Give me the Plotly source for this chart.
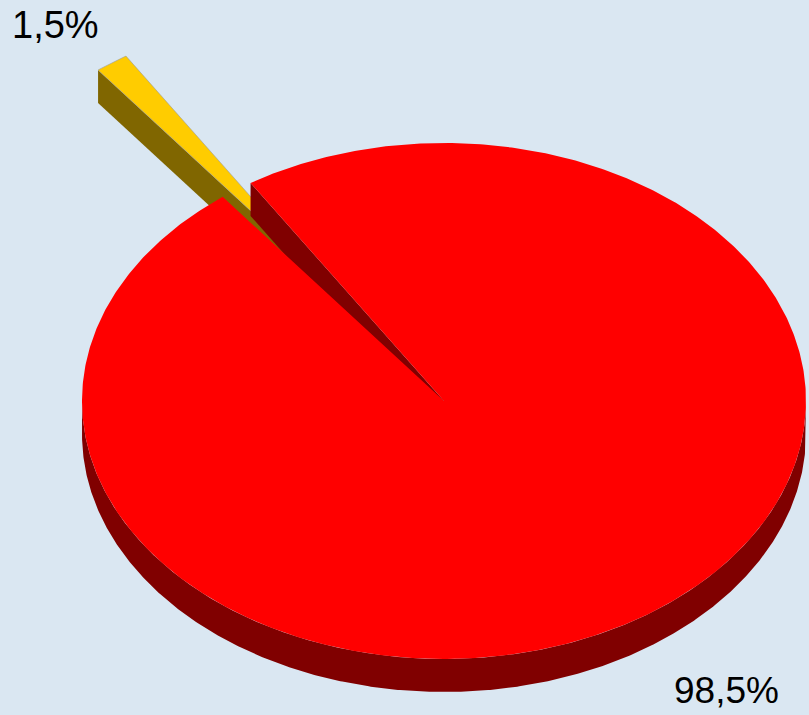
import numpy as np
import plotly.graph_objects as go

# Pie data
labels = ["1,5%", "98,5%"]
values = [1.5, 98.5]

# Styling per slice
top_colors = ["#FFCC00", "#FF0000"]
side_colors = ["#806600", "#800000"]
explode = [0.6, 0.0]

# Canvas / projection parameters (pixel units)
W, H = 809, 715
CX, CY = 444, 401        # pie centre
RX, RY = 362, 258        # ellipse radii of the tilted top face
DEPTH = 33               # thickness of the pie
START = 127.7            # angle (deg) where the first slice begins; slices run clockwise
BG = "#dae7f2"


def rim(cx, cy, ang_deg):
    a = np.radians(ang_deg)
    return cx + RX * np.cos(a), cy - RY * np.sin(a)


def arc(cx, cy, lo, hi):
    n = max(8, int(abs(hi - lo) * 2))
    ang = np.linspace(lo, hi, n)
    x, y = rim(cx, cy, ang)
    return list(x), list(y)


def add_poly(fig, xs, ys, color, line_color=None):
    fig.add_trace(go.Scatter(
        x=xs + [xs[0]], y=ys + [ys[0]], mode="lines", fill="toself",
        fillcolor=color,
        line=dict(color=line_color or color, width=0.6 if line_color else 0),
        hoverinfo="skip", showlegend=False))


# Angular extent of each slice
total = float(sum(values))
slices = []
a = START
for i, v in enumerate(values):
    span = 360.0 * v / total
    lo, hi = a - span, a
    mid = np.radians((lo + hi) / 2)
    ox = explode[i] * RX * np.cos(mid)
    oy = -explode[i] * RY * np.sin(mid)
    slices.append(dict(i=i, lo=lo, hi=hi, cx=CX + ox, cy=CY + oy))
    a -= span

fig = go.Figure()

# Paint back-to-front
for s in sorted(slices, key=lambda d: d["cy"]):
    i, lo, hi, cx, cy = s["i"], s["lo"], s["hi"], s["cx"], s["cy"]
    side = side_colors[i]

    # radial cut faces facing the viewer
    for ang, visible in ((lo, np.cos(np.radians(lo)) > 0),
                         (hi, np.cos(np.radians(hi)) < 0)):
        if visible:
            px, py = rim(cx, cy, ang)
            add_poly(fig, [cx, px, px, cx], [cy, py, py + DEPTH, cy + DEPTH], side)

    # outer rim where it faces the viewer (front half of the ellipse)
    ang = np.linspace(lo, hi, int((hi - lo) * 3) + 2)
    front = np.sin(np.radians(ang)) < 0
    runs, cur = [], []
    for t, f in zip(ang, front):
        if f:
            cur.append(t)
        elif cur:
            runs.append(cur)
            cur = []
    if cur:
        runs.append(cur)
    for r in runs:
        if len(r) < 2:
            continue
        xs, ys = rim(cx, cy, np.array(r))
        xs, ys = list(xs), list(ys)
        add_poly(fig, xs + xs[::-1], ys + [y + DEPTH for y in ys[::-1]], side)

    # top face
    ax, ay = arc(cx, cy, lo, hi)
    add_poly(fig, [cx] + ax, [cy] + ay, top_colors[i],
             line_color="#9a9a9a" if i == 0 else None)

# Value labels
fig.add_annotation(x=10, y=25, text=labels[0], showarrow=False,
                   xanchor="left", yanchor="middle",
                   font=dict(family="Liberation Sans, Arial", size=38, color="#000000"))
fig.add_annotation(x=672, y=690, text=labels[1], showarrow=False,
                   xanchor="left", yanchor="middle",
                   font=dict(family="Liberation Sans, Arial", size=37, color="#000000"))

fig.update_layout(
    width=W, height=H,
    margin=dict(l=0, r=0, t=0, b=0),
    paper_bgcolor=BG, plot_bgcolor=BG,
    xaxis=dict(range=[0, W], visible=False, fixedrange=True),
    yaxis=dict(range=[H, 0], visible=False, fixedrange=True),
    showlegend=False,
)

fig.write_html("out.html", config={"displayModeBar": False})
